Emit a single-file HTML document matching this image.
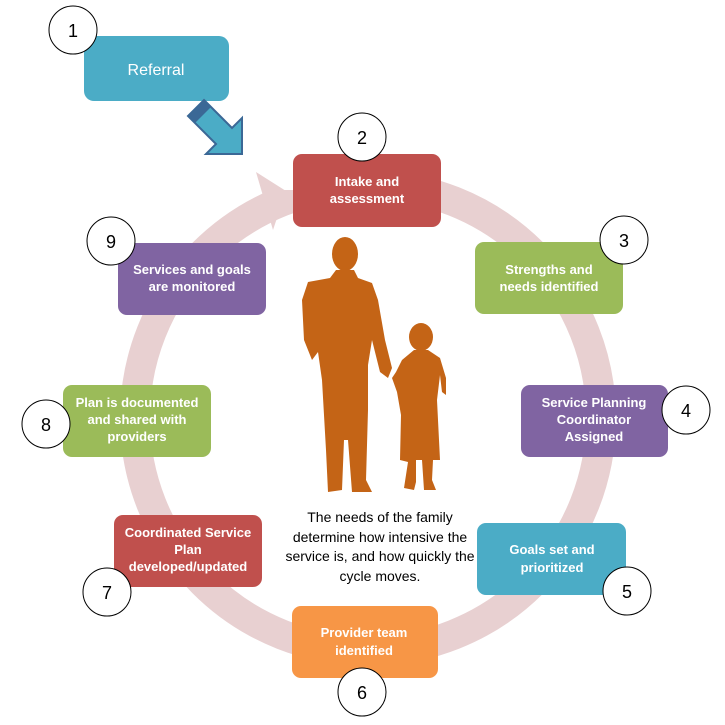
<!DOCTYPE html>
<html><head><style>
body{margin:0;background:#fff}
svg{display:block}
text{font-family:"Liberation Sans",sans-serif}
.b{font-weight:bold;font-size:13px;fill:#fff}
.n{font-size:18px;fill:#000}
</style></head><body>
<svg width="725" height="725" viewBox="0 0 725 725">
<circle cx="368" cy="418" r="233" fill="none" stroke="#e8d0d1" stroke-width="30"/>
<rect x="270" y="160" width="25" height="30" fill="#fff"/>
<polygon points="256,172 286,191 273,230" fill="#e8d0d1"/>
<g>
<rect x="84" y="36" width="145" height="65" rx="10" fill="#4bacc6"/>
<text x="156" y="75" text-anchor="middle" font-size="16" fill="#fff">Referral</text>
<polygon points="204,100 232,128 242,118 242,154 206,154 216,144 188,116" fill="#4bacc6" stroke="#3b6896" stroke-width="2"/>
<polygon points="188,116 204,100 211,107 195,123" fill="#3b6896"/>
</g>
<rect x="293" y="154" width="148" height="73" rx="9" fill="#c0504d"/>
<text class="b" x="367" y="186" text-anchor="middle">Intake and</text><text class="b" x="367" y="203" text-anchor="middle">assessment</text>
<rect x="475" y="242" width="148" height="72" rx="9" fill="#9bbb59"/>
<text class="b" x="549" y="274" text-anchor="middle">Strengths and</text><text class="b" x="549" y="291" text-anchor="middle">needs identified</text>
<rect x="521" y="385" width="147" height="72" rx="9" fill="#8064a2"/>
<text class="b" x="594" y="407" text-anchor="middle">Service Planning</text><text class="b" x="594" y="424" text-anchor="middle">Coordinator</text><text class="b" x="594" y="441" text-anchor="middle">Assigned</text>
<rect x="477" y="523" width="149" height="72" rx="9" fill="#4bacc6"/>
<text class="b" x="552" y="554" text-anchor="middle">Goals set and</text><text class="b" x="552" y="572" text-anchor="middle">prioritized</text>
<rect x="292" y="606" width="146" height="72" rx="9" fill="#f79646"/>
<text class="b" x="364" y="637" text-anchor="middle">Provider team</text><text class="b" x="364" y="655" text-anchor="middle">identified</text>
<rect x="114" y="515" width="148" height="72" rx="9" fill="#c0504d"/>
<text class="b" x="188" y="537" text-anchor="middle">Coordinated Service</text><text class="b" x="188" y="554" text-anchor="middle">Plan</text><text class="b" x="188" y="571" text-anchor="middle">developed/updated</text>
<rect x="63" y="385" width="148" height="72" rx="9" fill="#9bbb59"/>
<text class="b" x="137" y="407" text-anchor="middle">Plan is documented</text><text class="b" x="137" y="424" text-anchor="middle">and shared with</text><text class="b" x="137" y="441" text-anchor="middle">providers</text>
<rect x="118" y="243" width="148" height="72" rx="9" fill="#8064a2"/>
<text class="b" x="192" y="274" text-anchor="middle">Services and goals</text><text class="b" x="192" y="291" text-anchor="middle">are monitored</text>
<g fill="#fff" stroke="#000" stroke-width="1">
<circle cx="73" cy="30" r="24"/><circle cx="362" cy="137" r="24"/><circle cx="624" cy="240" r="24"/>
<circle cx="686" cy="410" r="24"/><circle cx="627" cy="591" r="24"/><circle cx="362" cy="692" r="24"/>
<circle cx="107" cy="592" r="24"/><circle cx="46" cy="424" r="24"/><circle cx="111" cy="241" r="24"/>
</g>
<g text-anchor="middle">
<text class="n" x="73" y="37">1</text><text class="n" x="362" y="144">2</text><text class="n" x="624" y="247">3</text>
<text class="n" x="686" y="417">4</text><text class="n" x="627" y="598">5</text><text class="n" x="362" y="699">6</text>
<text class="n" x="107" y="599">7</text><text class="n" x="46" y="431">8</text><text class="n" x="111" y="248">9</text>
</g>
<g fill="#c46416">
<ellipse cx="345" cy="254" rx="13" ry="17"/>
<path d="M336 270 L354 270 L358 278 L372 283 L378 300 L385 340 L392 368 L388 378 L380 372 L372 340 L368 365 L368 410 L366 480 L372 492 L352 492 L348 440 L344 440 L342 490 L328 492 L326 450 L322 380 L318 352 L312 360 L304 340 L302 300 L308 282 L330 278 Z"/>
<ellipse cx="421" cy="337" rx="12" ry="14"/>
<path d="M414 350 L428 350 L440 358 L446 378 L446 395 L442 392 L440 375 L437 400 L440 460 L433 460 L432 480 L436 490 L424 490 L422 460 L416 460 L416 482 L414 490 L404 488 L408 462 L400 460 L401 415 L397 392 L392 378 L396 372 L402 360 Z"/>
</g>
<g font-size="14" fill="#000" text-anchor="middle">
<text x="380" y="522">The needs of the family</text>
<text x="380" y="542">determine how intensive the</text>
<text x="380" y="561">service is, and how quickly the</text>
<text x="380" y="581">cycle moves.</text>
</g>
</svg>
</body></html>
